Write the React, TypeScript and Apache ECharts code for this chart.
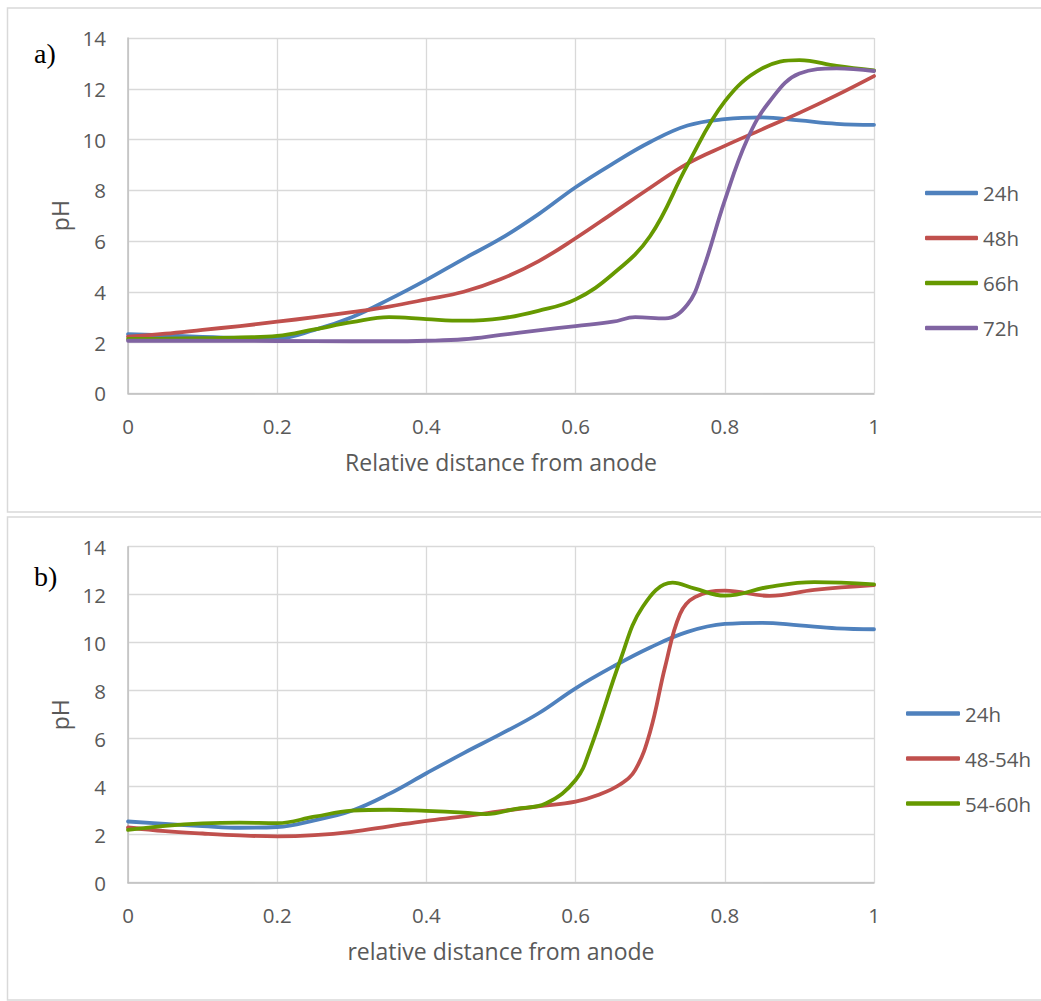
import React, { useEffect, useRef } from "react";
import * as echarts from "echarts";

// Panel a) pH profiles, x = relative distance from anode
const xA24 = [0, 0.05, 0.1, 0.15, 0.2, 0.25, 0.3, 0.35, 0.4, 0.45, 0.5, 0.55, 0.6, 0.65, 0.7, 0.75, 0.8, 0.85, 0.9, 0.95, 1];
const pHA24 = [2.33, 2.28, 2.22, 2.18, 2.17, 2.5, 3.0, 3.7, 4.47, 5.3, 6.1, 7.05, 8.12, 9.05, 9.9, 10.55, 10.8, 10.87, 10.75, 10.62, 10.58];

const xA48 = [0, 0.05, 0.1, 0.15, 0.2, 0.25, 0.3, 0.35, 0.4, 0.45, 0.5, 0.55, 0.6, 0.65, 0.7, 0.75, 0.8, 0.85, 0.9, 0.95, 1];
const pHA48 = [2.23, 2.35, 2.5, 2.65, 2.82, 3.0, 3.2, 3.42, 3.7, 4.0, 4.5, 5.2, 6.11, 7.1, 8.1, 9.05, 9.75, 10.4, 11.05, 11.75, 12.5];

const xA66 = [0, 0.05, 0.1, 0.15, 0.2, 0.25, 0.3, 0.35, 0.4, 0.45, 0.5, 0.55, 0.6, 0.65, 0.7, 0.75, 0.8, 0.85, 0.9, 0.95, 1];
const pHA66 = [2.14, 2.15, 2.17, 2.2, 2.26, 2.52, 2.8, 3.0, 2.92, 2.86, 2.95, 3.25, 3.7, 4.7, 6.2, 9.0, 11.5, 12.8, 13.13, 12.9, 12.72];

const xA72 = [0, 0.1, 0.2, 0.3, 0.35, 0.4, 0.45, 0.5, 0.55, 0.6, 0.65, 0.68, 0.72, 0.75, 0.77, 0.8, 0.83, 0.86, 0.9, 0.95, 1];
const pHA72 = [2.07, 2.07, 2.06, 2.05, 2.05, 2.07, 2.13, 2.3, 2.48, 2.65, 2.82, 3.0, 2.95, 3.5, 4.8, 7.6, 10.0, 11.5, 12.6, 12.8, 12.7];

// Panel b)
const xB24 = [0, 0.05, 0.1, 0.15, 0.2, 0.25, 0.3, 0.35, 0.4, 0.45, 0.5, 0.55, 0.6, 0.65, 0.7, 0.75, 0.8, 0.85, 0.9, 0.95, 1];
const pHB24 = [2.55, 2.45, 2.36, 2.29, 2.32, 2.6, 3.0, 3.7, 4.56, 5.4, 6.2, 7.05, 8.1, 9.0, 9.8, 10.45, 10.78, 10.83, 10.72, 10.6, 10.56];

const xB48 = [0, 0.05, 0.1, 0.15, 0.2, 0.25, 0.3, 0.35, 0.4, 0.45, 0.5, 0.55, 0.6, 0.63, 0.66, 0.68, 0.7, 0.72, 0.74, 0.76, 0.8, 0.86, 0.92, 1];
const pHB48 = [2.3, 2.15, 2.05, 1.97, 1.93, 1.98, 2.12, 2.35, 2.58, 2.76, 2.98, 3.18, 3.38, 3.65, 4.1, 4.7, 6.3, 9.0, 11.2, 11.9, 12.17, 11.95, 12.2, 12.4];

const xB54 = [0, 0.05, 0.1, 0.15, 0.2, 0.25, 0.3, 0.35, 0.4, 0.45, 0.48, 0.52, 0.56, 0.6, 0.62, 0.66, 0.69, 0.73, 0.76, 0.8, 0.86, 0.92, 1];
const pHB54 = [2.2, 2.37, 2.47, 2.5, 2.48, 2.75, 3.0, 3.04, 2.99, 2.92, 2.86, 3.08, 3.3, 4.28, 5.6, 9.28, 11.5, 12.5, 12.25, 11.96, 12.33, 12.52, 12.43];

const seriesA = [
  { name: "24h", xs: xA24, ys: pHA24, color: "#4f81bd" },
  { name: "48h", xs: xA48, ys: pHA48, color: "#c0504d" },
  { name: "66h", xs: xA66, ys: pHA66, color: "#669900" },
  { name: "72h", xs: xA72, ys: pHA72, color: "#8064a2" },
];
const seriesB = [
  { name: "24h", xs: xB24, ys: pHB24, color: "#4f81bd" },
  { name: "48-54h", xs: xB48, ys: pHB48, color: "#c0504d" },
  { name: "54-60h", xs: xB54, ys: pHB54, color: "#669900" },
];

const xTitleA = "Relative distance from anode";
const xTitleB = "relative distance from anode";
const yTitle = "pH";

const FONT = "'Open Sans', sans-serif";
const TXT = "#595959";
const GRID = "#d9d9d9";
const AXIS = "#bfbfbf";

function xAxisFor(gridIndex: number, name: string) {
  return {
    type: "value",
    gridIndex,
    min: 0,
    max: 1,
    interval: 0.2,
    name,
    nameLocation: "middle",
    nameGap: 57,
    nameTextStyle: { color: TXT, fontSize: 23, fontFamily: FONT },
    axisLine: { show: true, lineStyle: { color: AXIS, width: 1.5 } },
    axisTick: { show: false },
    axisLabel: {
      color: TXT,
      fontSize: 20.5,
      fontFamily: FONT,
      margin: 22,
      formatter: (v: number) => String(+v.toFixed(1)),
    },
    splitLine: { show: true, lineStyle: { color: GRID, width: 1.3 } },
  };
}

function yAxisFor(gridIndex: number) {
  return {
    type: "value",
    gridIndex,
    min: 0,
    max: 14,
    interval: 2,
    name: yTitle,
    nameLocation: "middle",
    nameGap: 54,
    nameRotate: 90,
    nameTextStyle: { color: TXT, fontSize: 23, fontFamily: FONT },
    axisLine: { show: true, lineStyle: { color: AXIS, width: 1.5 } },
    axisTick: { show: false },
    axisLabel: { color: TXT, fontSize: 20.5, fontFamily: FONT, margin: 22 },
    splitLine: { show: true, lineStyle: { color: GRID, width: 1.3 } },
  };
}

function lineSeries(s: { name: string; xs: number[]; ys: number[]; color: string }, idx: number) {
  return {
    type: "line",
    name: s.name,
    xAxisIndex: idx,
    yAxisIndex: idx,
    data: s.xs.map((x, i) => [x, s.ys[i]]),
    smooth: 0.4,
    showSymbol: false,
    symbol: "none",
    color: s.color,
    lineStyle: { color: s.color, width: 3.8, cap: "round", join: "round" },
  };
}

function legendFor(names: string[], left: number, top: number, width: number) {
  return {
    orient: "vertical",
    left,
    top,
    icon: "roundRect",
    itemWidth: width,
    itemHeight: 4.5,
    itemGap: 24,
    data: names,
    textStyle: { color: TXT, fontSize: 20.5, fontFamily: FONT, lineHeight: 20 },
  };
}

export default function App() {
  const ref = useRef<HTMLDivElement>(null);

  useEffect(() => {
    if (!ref.current) return;
    const chart = echarts.init(ref.current, undefined, { renderer: "svg" });
    chart.setOption({
      animation: false,
      backgroundColor: "#ffffff",
      grid: [
        { left: 128, top: 38, width: 746, height: 355.3 },
        { left: 128, top: 546.7, width: 746, height: 336 },
      ],
      xAxis: [xAxisFor(0, xTitleA), xAxisFor(1, xTitleB)],
      yAxis: [yAxisFor(0), yAxisFor(1)],
      legend: [
        legendFor(seriesA.map((s) => s.name), 920, 177.5, 53),
        legendFor(seriesB.map((s) => s.name), 901, 698, 54),
      ],
      graphic: [
        {
          type: "rect",
          silent: true,
          shape: { x: 7.5, y: 8, width: 1040, height: 504 },
          style: { fill: "none", stroke: GRID, lineWidth: 1.5 },
        },
        {
          type: "rect",
          silent: true,
          shape: { x: 7.5, y: 517, width: 1040, height: 483 },
          style: { fill: "none", stroke: GRID, lineWidth: 1.5 },
        },
        {
          type: "text",
          left: 34,
          top: 39,
          style: { text: "a)", fontSize: 28, fontFamily: "'Liberation Serif', serif", fill: "#000" },
        },
        {
          type: "text",
          left: 34,
          top: 562,
          style: { text: "b)", fontSize: 28, fontFamily: "'Liberation Serif', serif", fill: "#000" },
        },
      ],
      series: [...seriesA.map((s) => lineSeries(s, 0)), ...seriesB.map((s) => lineSeries(s, 1))],
    });
    return () => chart.dispose();
  }, []);

  return (
    <div
      ref={ref}
      style={{ position: "fixed", left: 0, top: 0, width: 1041, height: 1001, background: "#fff" }}
    />
  );
}
